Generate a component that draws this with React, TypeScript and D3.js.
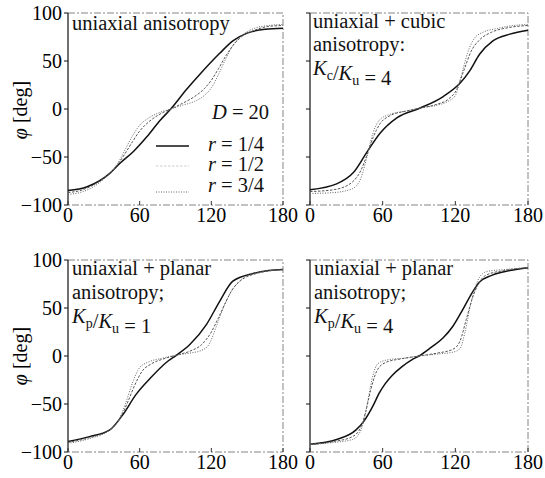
import * as d3 from "d3";
import React from "react";

type Pt = [number, number];

const xTicks = [0, 60, 120, 180];
const yTicks = [-100, -50, 0, 50, 100];
const legendLabels = ["r = 1/4", "r = 1/2", "r = 3/4"];

// uniaxial anisotropy
const uniR14: Pt[] = [
  [0, -85], [16, -81], [35, -67], [44, -56], [55, -44], [66, -29], [77, -12], [86, 0],
  [99, 20], [111, 37], [127, 58], [138, 71], [150, 79], [165, 83], [180, 84],
];
const uniR12: Pt[] = [
  [0, -87], [10, -85], [20, -80], [30, -72], [36, -66], [42, -57], [48, -46], [54, -34],
  [60, -23], [68, -13], [76, -6], [86, 0], [96, 6], [106, 13], [114, 21], [120, 30],
  [126, 42], [132, 55], [138, 66], [146, 76], [156, 82], [168, 86], [180, 87],
];
const uniR34: Pt[] = [
  [0, -89], [10, -87], [20, -82], [30, -73], [36, -66], [42, -56], [48, -42], [54, -28],
  [60, -17], [68, -9], [76, -4], [86, 0], [96, 4], [106, 8], [114, 14], [120, 22],
  [126, 36], [132, 52], [138, 66], [146, 77], [156, 84], [168, 87], [180, 88],
];

// uniaxial + cubic, Kc/Ku = 4
const cubR14: Pt[] = [
  [0, -84], [22, -78], [36, -66], [47, -45], [58, -25], [72, -9], [91, 1], [110, 13],
  [124, 27], [132, 40], [140, 57], [151, 71], [165, 78], [180, 82],
];
const cubR12: Pt[] = [
  [0, -86], [20, -84], [35, -76], [42, -64], [47, -48], [52, -30], [58, -15], [66, -7],
  [80, -2], [91, 1], [105, 5], [114, 10], [121, 20], [127, 40], [133, 60], [140, 72],
  [150, 80], [165, 85], [180, 87],
];
const cubR34: Pt[] = [
  [0, -88], [20, -87], [35, -83], [42, -72], [47, -50], [52, -25], [57, -12], [65, -6],
  [80, -2], [91, 1], [105, 4], [114, 8], [120, 14], [125, 35], [130, 58], [136, 74],
  [143, 80], [155, 84], [168, 87], [180, 88],
];

// uniaxial + planar, Kp/Ku = 1
const pl1R14: Pt[] = [
  [0, -89], [18, -84], [35, -77], [46, -61], [57, -40], [69, -23], [83, -6], [91, 1],
  [102, 12], [116, 33], [127, 57], [138, 78], [155, 86], [168, 89], [180, 90],
];
const pl1R12: Pt[] = [
  [0, -90], [18, -85], [35, -77], [44, -64], [50, -48], [56, -30], [62, -16], [70, -8],
  [80, -3], [91, 1], [102, 5], [112, 12], [120, 25], [126, 40], [132, 56], [138, 70],
  [145, 79], [158, 86], [180, 90],
];
const pl1R34: Pt[] = [
  [0, -91], [18, -86], [35, -77], [42, -68], [48, -50], [54, -28], [60, -12], [68, -6],
  [80, -2], [91, 1], [102, 3], [112, 6], [118, 12], [124, 30], [130, 50], [136, 66],
  [142, 76], [155, 86], [180, 90],
];

// uniaxial + planar, Kp/Ku = 4
const pl4R14: Pt[] = [
  [0, -92], [22, -87], [38, -77], [45, -67], [52, -52], [57, -39], [62, -29], [68, -20],
  [76, -11], [84, -4], [90, 0], [100, 9], [110, 19], [118, 31], [126, 48], [133, 64],
  [140, 77], [150, 84], [165, 89], [180, 92],
];
const pl4R12: Pt[] = [
  [0, -92], [20, -89], [35, -84], [42, -74], [46, -58], [50, -36], [55, -16], [62, -7],
  [75, -3], [90, 0], [105, 3], [118, 7], [124, 16], [129, 38], [134, 60], [139, 75],
  [145, 84], [160, 89], [180, 92],
];
const pl4R34: Pt[] = [
  [0, -92], [20, -90], [35, -87], [40, -82], [44, -70], [48, -45], [52, -20], [56, -8],
  [64, -4], [80, -2], [90, 0], [105, 2], [118, 4], [124, 8], [128, 25], [132, 50],
  [136, 70], [140, 82], [146, 88], [160, 90], [180, 92],
];

const FONT = '"Liberation Serif", "DejaVu Serif", "Times New Roman", serif';

const seriesStyle = [
  { stroke: "#111", width: 1.5, dash: undefined as string | undefined },
  { stroke: "#555", width: 1, dash: "2.5,1.5" },
  { stroke: "#666", width: 1, dash: "1,1.5" },
];

const sub = (t: string) => (
  <>
    <tspan dy={5} style={{ fontSize: 14 }}>{t}</tspan>
    <tspan dy={-5}></tspan>
  </>
);

const Ratio = ({ s, v }: { s: string; v: string }) => (
  <>
    <tspan fontStyle="italic">K</tspan>
    {sub(s)}
    <tspan>/</tspan>
    <tspan fontStyle="italic">K</tspan>
    {sub("u")}
    <tspan>{` = ${v}`}</tspan>
  </>
);

interface PanelProps {
  x0: number;
  x1: number;
  yTop: number;
  yBot: number;
  series: Pt[][];
  showYLabels: boolean;
  children?: React.ReactNode;
}

const tickFont = { fontSize: 20, fontFamily: FONT };

const Panel = ({ x0, x1, yTop, yBot, series, showYLabels, children }: PanelProps) => {
  const xs = d3.scaleLinear().domain([0, 180]).range([x0, x1]);
  const ys = d3.scaleLinear().domain([-100, 100]).range([yBot, yTop]);
  const line = d3
    .line<Pt>()
    .x((d) => xs(d[0]))
    .y((d) => ys(d[1]))
    .curve(d3.curveMonotoneX);

  return (
    <g>
      {/* faint frame */}
      <path
        d={`M${x0},${yTop}H${x1}V${yBot}H${x0}`}
        fill="none"
        stroke="#666"
        strokeWidth={0.8}
        strokeDasharray="7,2,2,2"
      />
      <line x1={x0} x2={x0} y1={yTop} y2={yBot} stroke="#111" strokeWidth={1.2} />
      {yTicks.map((t) => (
        <g key={t}>
          <line x1={x0 - 4} x2={x0} y1={ys(t)} y2={ys(t)} stroke="#111" strokeWidth={1} />
          {showYLabels && (
            <text
              x={x0 - 6}
              y={ys(t)}
              textAnchor="end"
              dominantBaseline="central"
              style={tickFont}
            >
              {t < 0 ? `\u2212${-t}` : t}
            </text>
          )}
        </g>
      ))}
      {xTicks.map((t) => (
        <g key={t}>
          <line x1={xs(t)} x2={xs(t)} y1={yBot} y2={yBot - 4} stroke="#333" strokeWidth={1} />
          <text x={xs(t)} y={yBot + 17} textAnchor="middle" style={tickFont}>
            {t}
          </text>
        </g>
      ))}
      {series.map((s, i) => (
        <path
          key={i}
          d={line(s) ?? ""}
          fill="none"
          stroke={seriesStyle[i].stroke}
          strokeWidth={seriesStyle[i].width}
          strokeDasharray={seriesStyle[i].dash}
        />
      ))}
      {children}
    </g>
  );
};

export default function App() {
  const txt = { style: { fontSize: 20.5, fontFamily: FONT }, fill: "#111" };
  return (
    <div style={{ position: "absolute", left: 0, top: 0, background: "#fff" }}>
      <svg width={545} height={478} style={{ display: "block" }}>
        <rect width={545} height={478} fill="#fff" />
        {[110, 356].map((cy) => (
          <text
            key={cy}
            transform={`translate(20,${cy}) rotate(-90)`}
            textAnchor="middle"
            dominantBaseline="central"
            style={tickFont}
          >
            <tspan fontStyle="italic">φ</tspan> [deg]
          </text>
        ))}

        <Panel x0={68} x1={283} yTop={13} yBot={205} series={[uniR14, uniR12, uniR34]} showYLabels>
          <text x={72} y={30} {...txt}>uniaxial anisotropy</text>
          <text x={212} y={119} {...txt}>
            <tspan fontStyle="italic">D</tspan> = 20
          </text>
          {legendLabels.map((l, i) => {
            const y = [151, 171, 192][i];
            return (
              <g key={l}>
                <line
                  x1={156}
                  x2={189}
                  y1={i === 2 ? y : y - 5}
                  y2={i === 2 ? y : y - 5}
                  stroke={i === 1 ? "#ccc" : seriesStyle[i].stroke}
                  strokeWidth={seriesStyle[i].width}
                  strokeDasharray={seriesStyle[i].dash}
                />
                <text x={208} y={y} {...txt}>
                  <tspan fontStyle="italic">r</tspan>
                  {l.slice(1)}
                </text>
              </g>
            );
          })}
        </Panel>

        <Panel x0={310} x1={528} yTop={13} yBot={205} series={[cubR14, cubR12, cubR34]} showYLabels={false}>
          <text x={313} y={28} {...txt}>uniaxial + cubic</text>
          <text x={313} y={51} {...txt}>anisotropy:</text>
          <text x={313} y={75} {...txt}>
            <Ratio s="c" v="4" />
          </text>
        </Panel>

        <Panel x0={68} x1={283} yTop={260} yBot={452} series={[pl1R14, pl1R12, pl1R34]} showYLabels>
          <text x={72} y={275} {...txt}>uniaxial + planar</text>
          <text x={72} y={299} {...txt}>anisotropy;</text>
          <text x={72} y={323} {...txt}>
            <Ratio s="p" v="1" />
          </text>
        </Panel>

        <Panel x0={310} x1={528} yTop={260} yBot={452} series={[pl4R14, pl4R12, pl4R34]} showYLabels={false}>
          <text x={314} y={275} {...txt}>uniaxial + planar</text>
          <text x={314} y={299} {...txt}>anisotropy;</text>
          <text x={314} y={323} {...txt}>
            <Ratio s="p" v="4" />
          </text>
        </Panel>
      </svg>
    </div>
  );
}
